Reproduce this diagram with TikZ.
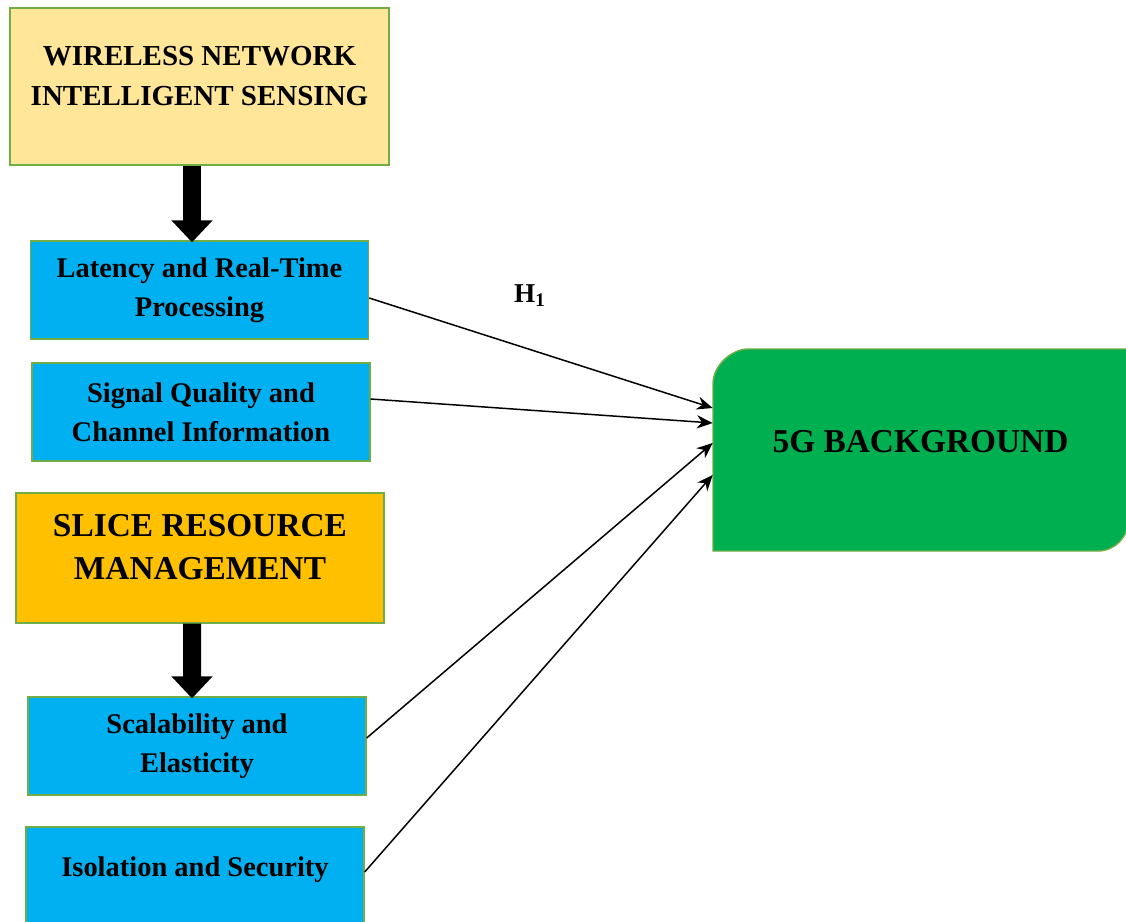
\documentclass[tikz,border=0pt]{standalone}
\usepackage{fontspec}
\setmainfont{Liberation Serif}
\usetikzlibrary{arrows.meta}

\definecolor{boxline}{HTML}{70AD47}
\definecolor{sensefill}{HTML}{FFE699}
\definecolor{slicefill}{HTML}{FFC000}
\definecolor{factfill}{HTML}{00B0F0}
\definecolor{bgfill}{HTML}{00B050}

\tikzset{
	mainbox/.style={draw=boxline,line width=0.8pt,align=center,
		font=\fontsize{17}{23}\selectfont\bfseries},
	factbox/.style={draw=boxline,line width=0.8pt,align=center,fill=factfill,
		minimum width=6.76cm,minimum height=1.96cm,
		font=\fontsize{16.2}{22}\selectfont\bfseries},
	bigarrow/.style={line width=0.36cm,-{Triangle[length=0.44cm,width=0.8cm]}},
	link/.style={line width=0.85pt,-{Stealth[length=9pt,width=7.5pt]}}
}

\begin{document}
\begin{tikzpicture}[x=0.02cm,y=-0.02cm]
		\useasboundingbox (0,0) rectangle (1126,922);
		% left column
		\node[mainbox,fill=sensefill,minimum width=7.58cm,minimum height=3.14cm,text depth=0.42cm,font=\fontsize{16.5}{23}\selectfont\bfseries] (Sensing) at (199.5,86.5) {WIRELESS NETWORK\\INTELLIGENT SENSING};
		\node[factbox] (Latency) at (199.5,290) {Latency and Real-Time\\Processing};
		\node[factbox] (Signal) at (201,412) {Signal Quality and\\Channel Information};
		\node[mainbox,fill=slicefill,minimum width=7.36cm,minimum height=2.6cm,text depth=0.46cm,font=\fontsize{19}{24.5}\selectfont\bfseries] (Slice) at (200,558) {SLICE RESOURCE\\MANAGEMENT};
		\node[factbox] (Scalability) at (197,746) {Scalability and\\Elasticity};
		\node[factbox,text depth=0.36cm] (Isolation) at (195,876) {Isolation and Security};

		% 5G box, rounded on two corners only
		\fill[bgfill,draw=boxline,line width=0.8pt] (713,551) -- (713,384) .. controls (713,365) and (732,349) .. (748,349) -- (1128,349) -- (1128,521) .. controls (1128,538) and (1114,551) .. (1098,551) -- cycle;
		\node[font=\fontsize{19}{22}\selectfont\bfseries,minimum width=8.3cm,minimum height=4.04cm,text depth=0.36cm,inner sep=0pt] (Background) at (920.5,450) {5G BACKGROUND};

		\draw[bigarrow] ([xshift=-0.15cm]Sensing.south) to ([xshift=-0.15cm,yshift=-0.04cm]Latency.north);
		\draw[bigarrow] ([xshift=-0.16cm]Slice.south) to ([xshift=-0.1cm,yshift=-0.04cm]Scalability.north);

		\draw[link] ([yshift=-0.16cm]Latency.east) to ([yshift=0.84cm]Background.west);
		\draw[link] ([yshift=0.26cm]Signal.east) to ([yshift=0.54cm]Background.west);
		\draw[link] ([yshift=0.16cm]Scalability.east) to ([yshift=0.14cm]Background.west);
		\draw[link] ([yshift=0.08cm]Isolation.east) to ([yshift=-0.5cm]Background.west);
		\node[font=\fontsize{15.5}{18}\selectfont\bfseries] (Hyp) at (530,296) {H\textsubscript{1}};
\end{tikzpicture}
\end{document}
